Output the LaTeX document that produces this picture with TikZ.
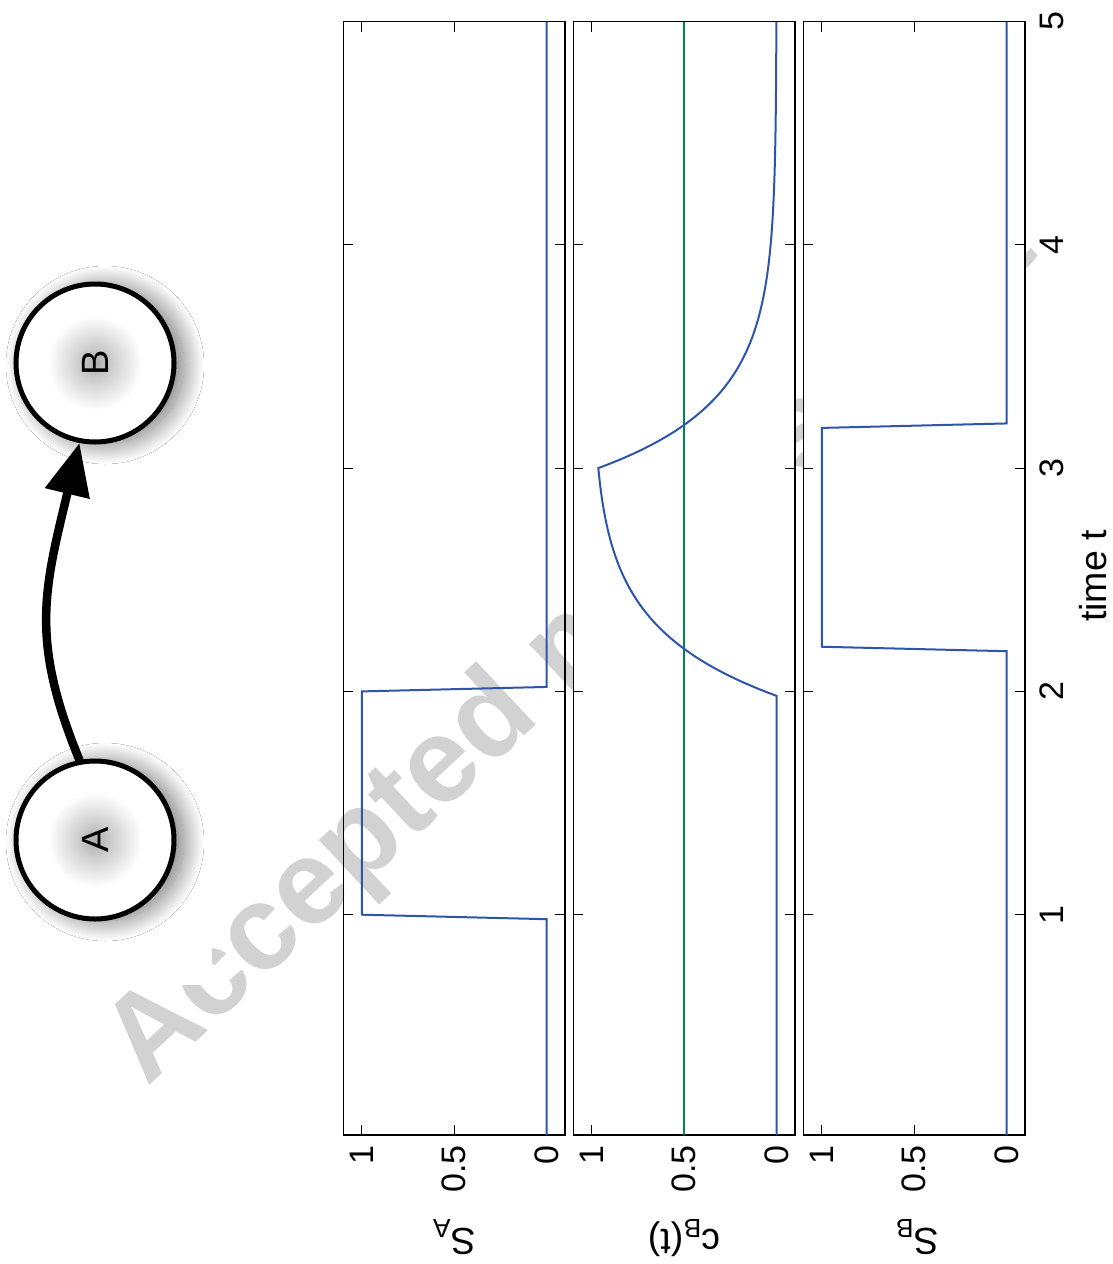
\documentclass[tikz,border=0pt]{standalone}
\usepackage{fontspec}
\setmainfont{Liberation Sans}
\usepackage{graphicx}
\usetikzlibrary{arrows.meta,shadows.blur}
\definecolor{plotblue}{RGB}{45,85,170}
\definecolor{plotgreen}{RGB}{0,135,75}
\definecolor{wmgray}{RGB}{210,210,210}
\definecolor{shadowtone}{RGB}{70,55,65}
\pgfdeclareradialshading{nodeglow}{\pgfpoint{0bp}{0bp}}{color(0bp)=(black!32); color(6bp)=(black!18); color(15bp)=(white); color(50bp)=(white)}
\tikzset{
  statenode/.style={circle, draw=black, line width=5pt, minimum size=158pt, inner sep=0pt,
    shading=nodeglow,
    blur shadow={shadow xshift=10pt, shadow yshift=-2pt, shadow blur radius=20pt,
      shadow blur steps=40, shadow opacity=55},
    font=\fontsize{38}{38}\selectfont},
  link/.style={line width=8.5pt, line cap=round, -{Triangle[length=52pt,width=44pt]}},
  frame/.style={draw=black, line width=1.3pt},
  tickmark/.style={black, line width=1pt},
  curveline/.style={plotblue, line width=2pt, line join=miter},
  refline/.style={plotgreen, line width=2pt},
  ticklab/.style={font=\fontsize{34}{34}\selectfont, inner sep=0pt},
  axlab/.style={font=\fontsize{37.5}{37.5}\selectfont, inner sep=0pt},
  wm/.style={rotate=43, anchor=base west, inner sep=0pt, text=wmgray,
    font=\fontsize{120}{120}\selectfont\bfseries},
  panel/.style={x={(-184.6pt,0pt)}, y={(0pt,223.3pt)}},
}
\newcommand{\paneldeco}{%
  \draw[frame] (1.1,0.0134) rectangle (-0.1,5);
  \foreach \t in {1,2,3,4} {
    \draw[tickmark] (1.1,\t) -- ++(-0.054,0);
    \draw[tickmark] (-0.1,\t) -- ++(0.054,0);
  }
  \foreach \v in {0,0.5,1} {
    \draw[tickmark] (\v,0.0134) -- ++(0,0.0448);
    \draw[tickmark] (\v,5) -- ++(0,-0.0448);
  }
}
\begin{document}
\begin{tikzpicture}[x=1pt,y=-1pt]
\useasboundingbox (0,0) rectangle (1112,1264);
\fill[white] (0,0) rectangle (1112,1264);

% watermark
\node[wm] (wmark) at (147,1088) {Accepted manuscript};
\fill[white] (0,0) rectangle (212,985);

% graph
\node[statenode] (A) at (95,840) {\rotatebox{90}{A}};
\node[statenode] (B) at (95,363) {\rotatebox{90}{B}};
\draw[link] (A.101) .. controls (30,640) and (44,590) .. (B.259);

% panel S_A (transparent background)
\begin{scope}[shift={(546.56,1138)}, panel]
  \paneldeco
  \draw[curveline] (0,0.0134) -- (0,0.98) -- (1,1.0) -- (1,2.0) -- (0,2.02) -- (0,5);
  \foreach \v/\n in {0/0,0.5/05,1/1} {
    \node[ticklab, rotate=90, anchor=east] (pa\n) at ([yshift=-10pt]\v,0.0134) {\v};
  }
\end{scope}

% panel c_B
\begin{scope}[shift={(776.56,1138)}, panel]
  \fill[white] (1.1,0.0134) rectangle (-0.1,5);
  \paneldeco
  \draw[refline] (0.5,0.0134) -- (0.5,5);
  \draw[curveline] (0,0.0134) -- (0,1.98)
    -- plot[domain=1.98:3, samples=60, variable=\t] ({1-exp(-3.3*(\t-1.98))}, \t)
    -- plot[domain=3:5, samples=100, variable=\t] ({0.9655*exp(-3.4*(\t-3))}, \t);
  \foreach \v/\n in {0/0,0.5/05,1/1} {
    \node[ticklab, rotate=90, anchor=east] (pc\n) at ([yshift=-10pt]\v,0.0134) {\v};
  }
\end{scope}

% panel S_B
\begin{scope}[shift={(1006.56,1138)}, panel]
  \fill[white] (1.1,0.0134) rectangle (-0.1,5);
  \paneldeco
  \draw[curveline] (0,0.0134) -- (0,2.18) -- (1,2.2) -- (1,3.18) -- (0,3.2) -- (0,5);
  \foreach \v/\n in {0/0,0.5/05,1/1} {
    \node[ticklab, rotate=90, anchor=east] (pb\n) at ([yshift=-10pt]\v,0.0134) {\v};
  }
\end{scope}

% time axis labels
\foreach \t in {1,2,3,4,5} {
  \node[ticklab, rotate=90, anchor=north] (tl\t) at (1040,{1138-223.3*\t}) {\t};
}
\node[axlab, rotate=90, anchor=north] (tlabel) at (1079,576) {time t};

% y labels (upside down)
\node[axlab, rotate=180] (ylA) at (454,1237) {S\textsubscript{A}};
\node[axlab, rotate=180] (ylC) at (684,1238) {c\textsubscript{B}(t)};
\node[axlab, rotate=180] (ylB) at (917,1237) {S\textsubscript{B}};
\end{tikzpicture}
\end{document}
